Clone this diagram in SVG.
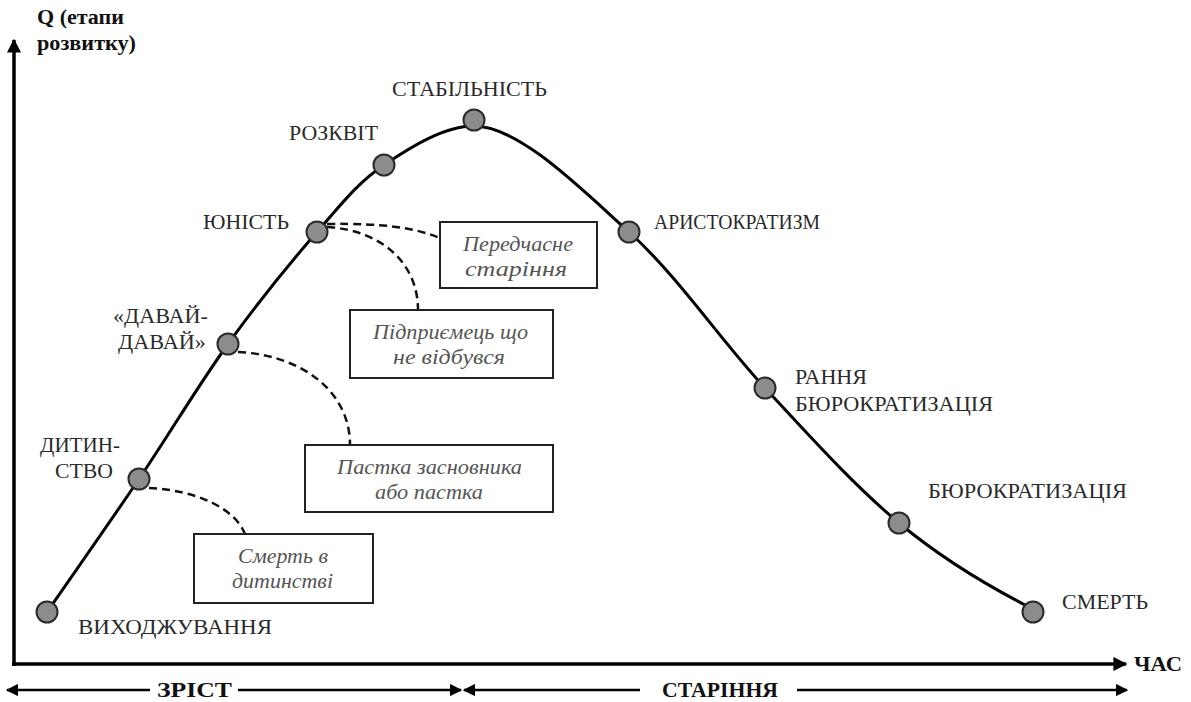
<svg xmlns="http://www.w3.org/2000/svg" width="1191" height="702" viewBox="0 0 1191 702">
<style>
.lbl{font-family:"Liberation Serif","Times New Roman",serif;font-size:21px;fill:#2a2a2a}
.bold{font-family:"Liberation Serif","Times New Roman",serif;font-size:20px;font-weight:bold;fill:#111}
.box rect{fill:#fff;stroke:#222;stroke-width:2}
.box text{font-family:"Liberation Serif","Times New Roman",serif;font-style:italic;font-size:20px;fill:#555}
.pt{fill:#8c8c8c;stroke:#2a2a2a;stroke-width:2}
.dash{fill:none;stroke:#111;stroke-width:2.5;stroke-dasharray:8 5}
.axis{stroke:#000;stroke-width:3.5;fill:none}
.thin{stroke:#000;stroke-width:2.5;fill:none}
</style>
<defs>
<marker id="ah" viewBox="0 0 10 10" refX="9" refY="5" markerWidth="4" markerHeight="4" orient="auto-start-reverse" markerUnits="strokeWidth">
<path d="M0,0 L10,5 L0,10 z" fill="#000"/>
</marker>
<marker id="ah2" viewBox="0 0 10 10" refX="9" refY="5" markerWidth="5" markerHeight="5" orient="auto-start-reverse" markerUnits="strokeWidth">
<path d="M0,0 L10,5 L0,10 z" fill="#000"/>
</marker>
</defs>
<rect width="1191" height="702" fill="#fff"/>
<g id="axes">
<path class="axis" d="M14,666 L14,40" marker-end="url(#ah)"/>
<path class="axis" d="M12,664 L1126,664" marker-end="url(#ah)"/>
<text class="bold" x="37" y="24" textLength="87" lengthAdjust="spacingAndGlyphs">Q (етапи</text>
<text class="bold" x="37" y="50" textLength="99" lengthAdjust="spacingAndGlyphs">розвитку)</text>
<text class="bold" x="1134" y="671" textLength="48" lengthAdjust="spacingAndGlyphs">ЧАС</text>
</g>
<g id="phases">
<path class="thin" d="M150,690 L7,690" marker-end="url(#ah2)"/>
<path class="thin" d="M238,690 L461,690" marker-end="url(#ah2)"/>
<path class="thin" d="M640,690 L464,690" marker-end="url(#ah2)"/>
<path class="thin" d="M797,690 L1127,690" marker-end="url(#ah2)"/>
<text class="bold" x="157" y="697" textLength="75" lengthAdjust="spacingAndGlyphs">ЗРІСТ</text>
<text class="bold" x="662" y="697" textLength="116" lengthAdjust="spacingAndGlyphs">СТАРІННЯ</text>
</g>
<g id="connectors">
<path id="curve" fill="none" stroke="#000" stroke-width="3" d="M47,612 C77.7,567.7 108.8,523.7 139,479 C169.2,434.3 198.3,385.2 228,344 C257.7,302.8 291,261.8 317,232 C343,202.2 357.8,182.7 384,165 C410.2,147.3 444,126 474,126 C519,126 580.5,188.3 629,232 C677.5,275.7 720,339.5 765,388 C810,436.5 854.8,486.3 899,523 C943.2,559.7 986.3,585 1027,606"/>
<path class="dash" d="M327,224 C385,223 415,228 440,238"/>
<path class="dash" d="M327,227 C380,230 418,262 418,310"/>
<path class="dash" d="M238,352 C300,355 350,390 350,445"/>
<path class="dash" d="M149,488 C195,490 235,508 245,534"/>
</g>
<g id="n-vyhodzh"><circle class="pt" cx="47" cy="612" r="10.5"/><text class="lbl" x="78" y="634" textLength="194" lengthAdjust="spacingAndGlyphs">ВИХОДЖУВАННЯ</text></g>
<g id="n-dytynstvo"><circle class="pt" cx="139" cy="479" r="10.5"/><text class="lbl" x="40" y="452" textLength="80" lengthAdjust="spacingAndGlyphs">ДИТИН-</text><text class="lbl" x="55" y="478" textLength="58" lengthAdjust="spacingAndGlyphs">СТВО</text></g>
<g id="n-davai"><circle class="pt" cx="228" cy="344" r="10.5"/><text class="lbl" x="113" y="323" textLength="95" lengthAdjust="spacingAndGlyphs">«ДАВАЙ-</text><text class="lbl" x="118" y="349" textLength="88" lengthAdjust="spacingAndGlyphs">ДАВАЙ»</text></g>
<g id="n-yunist"><circle class="pt" cx="317" cy="232" r="10.5"/><text class="lbl" x="203" y="229" textLength="86" lengthAdjust="spacingAndGlyphs">ЮНІСТЬ</text></g>
<g id="n-rozkvit"><circle class="pt" cx="384" cy="165" r="10.5"/><text class="lbl" x="289" y="140" textLength="89" lengthAdjust="spacingAndGlyphs">РОЗКВІТ</text></g>
<g id="n-stabilnist"><circle class="pt" cx="474" cy="120" r="10.5"/><text class="lbl" x="392" y="96" textLength="155" lengthAdjust="spacingAndGlyphs">СТАБІЛЬНІСТЬ</text></g>
<g id="n-aristo"><circle class="pt" cx="629" cy="232" r="10.5"/><text class="lbl" x="654" y="229" textLength="166" lengthAdjust="spacingAndGlyphs">АРИСТОКРАТИЗМ</text></g>
<g id="n-rannia"><circle class="pt" cx="765" cy="388" r="10.5"/><text class="lbl" x="795" y="384" textLength="72" lengthAdjust="spacingAndGlyphs">РАННЯ</text><text class="lbl" x="795" y="411" textLength="198" lengthAdjust="spacingAndGlyphs">БЮРОКРАТИЗАЦІЯ</text></g>
<g id="n-biuro"><circle class="pt" cx="899" cy="523" r="10.5"/><text class="lbl" x="928" y="498" textLength="199" lengthAdjust="spacingAndGlyphs">БЮРОКРАТИЗАЦІЯ</text></g>
<g id="n-smert"><circle class="pt" cx="1033" cy="612" r="10.5"/><text class="lbl" x="1062" y="609" textLength="86" lengthAdjust="spacingAndGlyphs">СМЕРТЬ</text></g>
<g id="b-peredchasne" class="box"><rect x="440" y="222" width="157" height="66"/><text x="463" y="251" textLength="110" lengthAdjust="spacingAndGlyphs">Передчасне</text><text x="465" y="276" textLength="102" lengthAdjust="spacingAndGlyphs">старіння</text></g>
<g id="b-pidpryiemets" class="box"><rect x="350" y="310" width="203" height="68"/><text x="373" y="339" textLength="155" lengthAdjust="spacingAndGlyphs">Підприємець що</text><text x="393" y="364" textLength="112" lengthAdjust="spacingAndGlyphs">не відбувся</text></g>
<g id="b-pastka" class="box"><rect x="305" y="445" width="248" height="67"/><text x="337" y="474" textLength="185" lengthAdjust="spacingAndGlyphs">Пастка засновника</text><text x="375" y="499" textLength="108" lengthAdjust="spacingAndGlyphs">або пастка</text></g>
<g id="b-smert-dyt" class="box"><rect x="194" y="534" width="179" height="69"/><text x="238" y="563" textLength="90" lengthAdjust="spacingAndGlyphs">Смерть в</text><text x="232" y="588" textLength="101" lengthAdjust="spacingAndGlyphs">дитинстві</text></g>
</svg>
